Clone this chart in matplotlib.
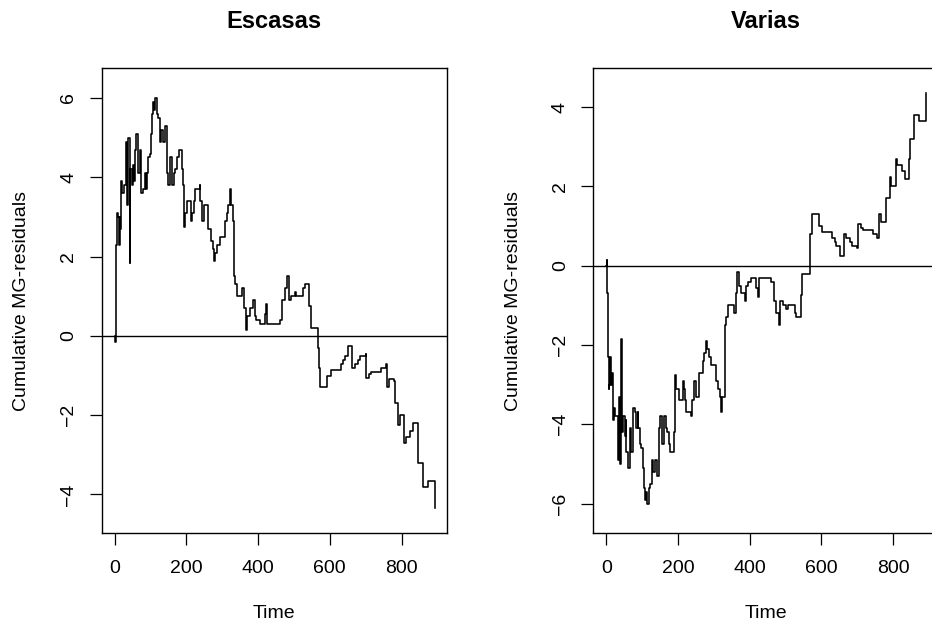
import matplotlib
matplotlib.use("Agg")
import matplotlib.pyplot as plt

plt.rcParams['font.family'] = ['Liberation Sans', 'DejaVu Sans']

# event times (shared by both groups)
time = [0, 1, 3, 5, 7, 9, 11, 14, 16, 19, 21, 25, 31, 33, 35, 38, 42, 44, 48, 51,
        54, 56, 60, 65, 70, 74, 79, 84, 88, 90, 93, 98, 102, 104, 107, 110, 114,
        118, 121, 127, 130, 135, 141, 146, 149, 155, 161, 166, 169, 174, 179, 184,
        188, 191, 193, 195, 203, 209, 214, 217, 220, 223, 237, 239, 244, 249, 258,
        260, 267, 269, 274, 277, 281, 286, 293, 304, 307, 312, 316, 321, 324, 330,
        332, 335, 340, 351, 355, 361, 366, 369, 377, 386, 391, 395, 405, 419, 423,
        426, 456, 460, 468, 474, 482, 485, 493, 502, 507, 521, 526, 530, 540, 542,
        547, 563, 567, 569, 574, 589, 593, 603, 626, 630, 637, 642, 651, 660, 663,
        670, 679, 684, 700, 702, 710, 716, 740, 744, 756, 760, 765, 779, 781, 788,
        791, 795, 803, 807, 812, 821, 825, 833, 842, 845, 847, 856, 859, 870, 873,
        890, 893]

# cumulative martingale residuals, group "Escasas"
escasas = [0.0, -0.15, 0.7, 2.3, 3.1, 3.0, 2.3, 3.0, 2.7, 3.9, 3.6, 3.8, 3.8, 4.9,
           3.3, 5.0, 1.85, 4.2, 3.8, 4.3, 3.9, 4.7, 5.1, 4.1, 4.7, 3.6, 3.7, 4.1,
           3.7, 4.1, 4.5, 4.6, 5.1, 5.6, 5.9, 5.7, 6.0, 5.6, 5.5, 4.9, 5.2, 4.9,
           5.3, 4.1, 3.8, 4.5, 3.8, 4.1, 4.2, 4.5, 4.7, 4.7, 4.2, 3.8, 2.75, 3.1,
           3.4, 3.4, 2.9, 3.1, 3.4, 3.7, 3.8, 3.4, 2.9, 3.3, 3.3, 2.7, 2.7, 2.4,
           2.2, 1.9, 2.1, 2.3, 2.5, 2.5, 2.9, 3.1, 3.3, 3.7, 3.3, 2.9, 1.5, 1.3,
           1.0, 1.0, 1.2, 0.7, 0.15, 0.5, 0.7, 0.9, 0.5, 0.4, 0.3, 0.55, 0.8, 0.3,
           0.3, 0.4, 0.9, 1.2, 1.5, 0.9, 1.0, 1.1, 1.0, 1.0, 1.2, 1.3, 1.3, 0.75,
           0.2, 0.2, -0.3, -0.8, -1.3, -1.3, -1.0, -0.85, -0.85, -0.7, -0.6, -0.5,
           -0.25, -0.25, -0.8, -0.7, -0.6, -0.5, -0.45, -1.05, -0.95, -0.9, -0.9,
           -0.8, -0.7, -1.3, -1.1, -1.15, -1.7, -1.7, -2.25, -2.0, -2.0, -2.7,
           -2.55, -2.55, -2.4, -2.2, -2.2, -2.7, -3.2, -3.2, -3.8, -3.8, -3.65,
           -3.65, -4.35]

# cumulative martingale residuals, group "Varias"
varias = [0.0, 0.15, -0.7, -2.3, -3.1, -3.0, -2.3, -3.0, -2.7, -3.9, -3.6, -3.8,
          -3.8, -4.9, -3.3, -5.0, -1.85, -4.2, -3.8, -4.3, -3.9, -4.7, -5.1, -4.1,
          -4.7, -3.6, -3.7, -4.1, -3.7, -4.1, -4.5, -4.6, -5.1, -5.6, -5.9, -5.7,
          -6.0, -5.6, -5.5, -4.9, -5.2, -4.9, -5.3, -4.1, -3.8, -4.5, -3.8, -4.1,
          -4.2, -4.5, -4.7, -4.7, -4.2, -3.8, -2.75, -3.1, -3.4, -3.4, -2.9, -3.1,
          -3.4, -3.7, -3.8, -3.4, -2.9, -3.3, -3.3, -2.7, -2.7, -2.4, -2.2, -1.9,
          -2.1, -2.3, -2.5, -2.5, -2.9, -3.1, -3.3, -3.7, -3.3, -2.9, -1.5, -1.3,
          -1.0, -1.0, -1.2, -0.7, -0.15, -0.5, -0.7, -0.9, -0.5, -0.4, -0.3, -0.55,
          -0.8, -0.3, -0.3, -0.4, -0.9, -1.2, -1.5, -0.9, -1.0, -1.1, -1.0, -1.0,
          -1.2, -1.3, -1.3, -0.75, -0.2, -0.2, 0.3, 0.8, 1.3, 1.3, 1.0, 0.85, 0.85,
          0.7, 0.6, 0.5, 0.25, 0.25, 0.8, 0.7, 0.6, 0.5, 0.45, 1.05, 0.95, 0.9, 0.9,
          0.8, 0.7, 1.3, 1.1, 1.15, 1.7, 1.7, 2.25, 2.0, 2.0, 2.7, 2.55, 2.55, 2.4,
          2.2, 2.2, 2.7, 3.2, 3.2, 3.8, 3.8, 3.65, 3.65, 4.35]

titles = ["Escasas", "Varias"]
x_ticks = [0, 200, 400, 600, 800]
y_ticks = [[-4, -2, 0, 2, 4, 6], [-6, -4, -2, 0, 2, 4]]
y_limits = [(-4.98, 6.75), (-6.75, 4.98)]

W, H = 932, 627
fig = plt.figure(figsize=(W / 100, H / 100), dpi=100)

# panel boxes in pixels: left, top, right, bottom
boxes = [(101.7, 68.3, 446.7, 533.3), (593.3, 68.3, 938.3, 533.3)]

for i, values in enumerate([escasas, varias]):
    l, t, r, b = boxes[i]
    ax = fig.add_axes([l / W, 1 - b / H, (r - l) / W, (b - t) / H])
    ax.step(time, values, where='post', color='black', lw=1.15)
    ax.axhline(0, color='black', lw=1.0)
    ax.set_xlim(-36, 926)
    ax.set_ylim(*y_limits[i])
    ax.set_xticks(x_ticks)
    ax.set_yticks(y_ticks[i])
    ax.tick_params(axis='both', direction='out', length=8.5, width=0.9,
                   labelsize=14, color='black')
    ax.tick_params(axis='x', pad=11)
    ax.tick_params(axis='y', pad=9)
    for lab in ax.get_yticklabels():
        lab.set_rotation(90)
        lab.set_va('center')
    for sp in ax.spines.values():
        sp.set_linewidth(1.0)
        sp.set_color('black')

    cx = (l + r) / 2
    fig.text(cx / W, 1 - 22 / H, titles[i], ha='center', va='center',
             fontsize=17, fontweight='bold')
    fig.text(cx / W, 1 - 613 / H, "Time", ha='center', va='center', fontsize=14)
    fig.text((l - 80) / W, 1 - (t + b) / 2 / H, "Cumulative MG-residuals",
             ha='center', va='center', rotation=90, fontsize=14)

fig.savefig("out.png", dpi=100)
